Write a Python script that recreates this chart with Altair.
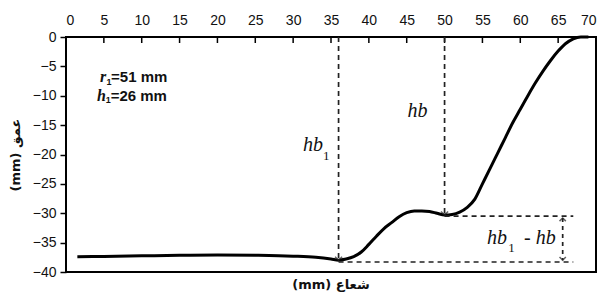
import altair as alt
import pandas as pd

# profile curve
radius = [1.5, 5, 10, 15, 20, 25, 30, 33, 35, 36, 37, 38, 39, 40, 41, 42, 43, 44, 45, 46,
          47, 48, 49, 50, 51, 52, 53, 54, 55, 56, 57, 58, 59, 60, 61, 62, 63, 64, 65, 66,
          67, 68, 69]
depth = [-37.4, -37.35, -37.25, -37.15, -37.1, -37.15, -37.3, -37.5, -37.8, -38.0, -37.8,
         -37.4, -36.6, -35.3, -33.9, -32.6, -31.6, -30.6, -29.9, -29.6, -29.6, -29.7, -30.0,
         -30.3, -30.2, -29.8, -29.0, -27.6, -25.0, -22.4, -19.8, -17.2, -14.6, -12.3, -10.0,
         -7.8, -5.8, -4.0, -2.4, -1.1, -0.3, 0.0, 0.0]

x_ticks = list(range(0, 71, 5))
y_ticks = list(range(-40, 1, 5))
inner_ticks = list(range(5, 70, 5))

# dashed guides
v_x = [36, 50]
v_y_top = [0, 0]
v_y_bot = [-38.0, -30.3]
h_y = [-38.3, -30.5]
h_x_start = [36, 50]
h_x_end = [67, 67]
dbl_x = 65.6

df = pd.DataFrame({"r": radius, "d": depth})
xs = alt.Scale(domain=[0, 70], nice=False)
ys = alt.Scale(domain=[-40, 0], nice=False)

x_axis = alt.Axis(orient="top", values=x_ticks, title=None, ticks=False, domain=False, grid=False,
                  labelPadding=10, labelFontSize=14, labelColor="#111", labelFont="Liberation Sans")
y_axis = alt.Axis(values=y_ticks, title="(mm) عمق", grid=False, domain=False, tickSize=6,
                  tickColor="black", tickWidth=1.5, labelPadding=4, labelFontSize=14,
                  labelColor="#111", labelFont="Liberation Sans", titleFontSize=13,
                  titleFontWeight="bold", titleFont="DejaVu Sans", titlePadding=10,
                  titleColor="#111")


def X(f):
    return alt.X(f, scale=xs, axis=x_axis)


def Y(f):
    return alt.Y(f, scale=ys, axis=y_axis)


curve = alt.Chart(df).mark_line(color="black", strokeWidth=3, interpolate="monotone").encode(
    x=X("r:Q"), y=Y("d:Q"))

ticks = alt.Chart(pd.DataFrame({"r": inner_ticks})).mark_rule(color="black", strokeWidth=1.5).encode(
    x=X("r:Q"), y=alt.value(0), y2=alt.value(6))

vdf = pd.DataFrame({"r": v_x, "d": v_y_top, "d2": v_y_bot})
vlines = alt.Chart(vdf).mark_rule(color="#222", strokeWidth=1.7, strokeDash=[5, 4]).encode(
    x=X("r:Q"), y=Y("d:Q"), y2="d2:Q")
varrows = alt.Chart(vdf).mark_point(shape="M-1,-1L0,0L1,-1", size=50, color="#222",
                                    strokeWidth=1.5, filled=False).encode(
    x=X("r:Q"), y=Y("d2:Q"))

hdf = pd.DataFrame({"r": h_x_start, "r2": h_x_end, "d": h_y})
hlines = alt.Chart(hdf).mark_rule(color="#222", strokeWidth=1.7, strokeDash=[5, 4]).encode(
    x=X("r:Q"), x2="r2:Q", y=Y("d:Q"))

ddf = pd.DataFrame({"r": [dbl_x], "d": [h_y[1] - 0.3], "d2": [h_y[0] + 0.3]})
dline = alt.Chart(ddf).mark_rule(color="#222", strokeWidth=1.7, strokeDash=[4, 4]).encode(
    x=X("r:Q"), y=Y("d:Q"), y2="d2:Q")
dup = alt.Chart(ddf).mark_point(shape="M-1,1L0,0L1,1", size=40, color="#222", strokeWidth=1.5,
                                filled=False).encode(x=X("r:Q"), y=Y("d:Q"))
ddown = alt.Chart(ddf).mark_point(shape="M-1,-1L0,0L1,-1", size=40, color="#222", strokeWidth=1.5,
                                  filled=False).encode(x=X("r:Q"), y=Y("d2:Q"))

# annotation labels
serif_big = pd.DataFrame({"t": ["hb", "hb", "hb", "- hb"],
                          "r": [45.1, 31.3, 55.6, 60.5],
                          "d": [-13.7, -19.35, -35.3, -35.3]})
serif_sub = pd.DataFrame({"t": ["1", "1"], "r": [33.95, 58.4], "d": [-21.0, -36.6]})


def txt(d, **kw):
    return alt.Chart(d).mark_text(align="left", baseline="alphabetic", color="#111", **kw).encode(
        x=X("r:Q"), y=Y("d:Q"), text="t:N")


t1 = txt(serif_big, font="Liberation Serif", fontStyle="italic", fontSize=20)
t2 = txt(serif_sub, font="Liberation Serif", fontSize=13)

sans_it = pd.DataFrame({"t": ["r", "h"], "r": [4.49, 4.1], "d": [-7.71, -10.84]})
sans_sub = pd.DataFrame({"t": ["1", "1"], "r": [5.35, 5.25], "d": [-8.12, -11.23]})
sans_main = pd.DataFrame({"t": ["=51 mm", "=26 mm"], "r": [5.95, 5.9], "d": [-7.71, -10.84]})
t3 = txt(sans_it, font="Liberation Serif", fontStyle="italic", fontWeight="bold", fontSize=16)
t4 = txt(sans_sub, font="Liberation Sans", fontWeight="bold", fontSize=9)
t5 = txt(sans_main, font="Liberation Sans", fontWeight="bold", fontSize=15)

chart = alt.layer(curve, ticks, vlines, varrows, hlines, dline, dup, ddown, t1, t2, t3, t4, t5).properties(
    width=530, height=235,
    autosize=alt.AutoSizeParams(type="none"),
    padding={"left": 58, "top": 29, "right": 2, "bottom": 20},
    title=alt.TitleParams("(mm) شعاع", orient="bottom", fontSize=13, fontWeight="bold",
                          font="DejaVu Sans", color="#111", offset=0),
).configure(background="white").configure_view(stroke="black", strokeWidth=2)

chart.save("out.html", embed_options={"renderer": "svg", "actions": False})
